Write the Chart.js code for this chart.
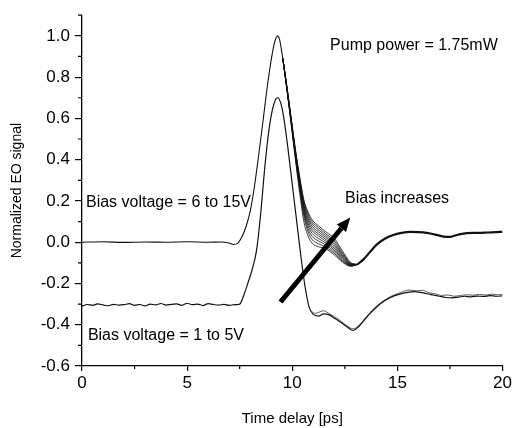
<!DOCTYPE html>
<html>
<head>
<meta charset="utf-8">
<script src="https://cdn.jsdelivr.net/npm/chart.js@4"></script>
<style>
  html, body { margin: 0; padding: 0; background: #fff; }
</style>
</head>
<body>
<canvas id="grafico" width="514" height="428"></canvas>
<script>
// Curva superior (6 a 15V) - parte comum: linha de base e subida
const subidaT = [0, 1, 2, 3, 4, 5, 6, 6.6, 7.0, 7.2, 7.4, 7.6, 7.8, 8.0, 8.2, 8.4, 8.6, 8.8, 9.0, 9.15, 9.3, 9.4, 9.55];
const subidaY = [0.0, 0.002, -0.001, 0.001, 0.0, 0.002, 0.0, 0.001, -0.004, -0.011, -0.006, 0.025, 0.075, 0.15, 0.27, 0.42, 0.58, 0.745, 0.885, 0.965, 1.0, 0.98, 0.89];

// Feixe de curvas (uma por tensão, 6V .. 15V)
const feixeT = [9.75, 9.95, 10.15, 10.35, 10.55, 10.75, 10.95, 11.25, 11.6, 12.0, 12.4, 12.8];
const feixeY = [
  [0.735, 0.570, 0.400, 0.240, 0.100, 0.030, -0.005, -0.022, -0.032, -0.062, -0.098, -0.117],
  [0.737, 0.575, 0.410, 0.255, 0.125, 0.050, 0.012, -0.008, -0.024, -0.054, -0.093, -0.115],
  [0.739, 0.578, 0.415, 0.265, 0.140, 0.065, 0.028, 0.006, -0.014, -0.046, -0.088, -0.114],
  [0.740, 0.582, 0.420, 0.275, 0.152, 0.080, 0.042, 0.018, -0.005, -0.038, -0.083, -0.112],
  [0.742, 0.585, 0.425, 0.283, 0.163, 0.092, 0.055, 0.030, 0.004, -0.030, -0.078, -0.110],
  [0.743, 0.588, 0.430, 0.290, 0.172, 0.104, 0.066, 0.040, 0.013, -0.021, -0.072, -0.108],
  [0.745, 0.590, 0.435, 0.297, 0.181, 0.115, 0.077, 0.050, 0.022, -0.012, -0.066, -0.106],
  [0.746, 0.593, 0.440, 0.305, 0.190, 0.126, 0.088, 0.060, 0.031, -0.003, -0.060, -0.105],
  [0.748, 0.596, 0.445, 0.312, 0.198, 0.137, 0.098, 0.070, 0.040, 0.007, -0.053, -0.103],
  [0.750, 0.600, 0.450, 0.320, 0.206, 0.147, 0.108, 0.079, 0.050, 0.018, -0.045, -0.100]
];

// Cauda comum da curva superior
const caudaT = [13.1, 13.4, 13.7, 14.0, 14.4, 14.8, 15.2, 15.6, 16.0, 16.4, 16.8, 17.2, 17.5, 17.9, 18.3, 18.8, 19.3, 19.7, 20.0];
const caudaY = [-0.108, -0.082, -0.047, -0.013, 0.017, 0.035, 0.045, 0.05, 0.049, 0.045, 0.037, 0.027, 0.026, 0.037, 0.044, 0.045, 0.047, 0.049, 0.05];

// Curva inferior (1 a 5V)
const inferiorT = [0, 0.25, 0.5, 0.75, 1, 1.25, 1.5, 1.75, 2, 2.25, 2.5, 2.75, 3, 3.25, 3.5, 3.75, 4, 4.25, 4.5, 4.75, 5, 5.25, 5.5, 5.75, 6, 6.25, 6.5, 6.75, 7, 7.25,
  7.5, 7.7, 7.9, 8.1, 8.3, 8.5, 8.7, 8.9, 9.05, 9.2, 9.3, 9.45, 9.6, 9.8, 10.0, 10.2, 10.4, 10.6, 10.8, 11.0, 11.25, 11.5, 11.75, 12.0, 12.3, 12.6, 12.9,
  13.15, 13.4, 13.7, 14.0, 14.3, 14.6, 14.9, 15.2, 15.5, 15.8, 16.1, 16.4, 16.7, 17.0, 17.3, 17.6, 17.9, 18.2, 18.5, 18.8, 19.1, 19.4, 19.7, 20.0];
const inferiorY = [-0.31, -0.302, -0.306, -0.299, -0.304, -0.308, -0.301, -0.305, -0.303, -0.298, -0.306, -0.302, -0.309, -0.3, -0.304, -0.297, -0.305, -0.301, -0.299, -0.306, -0.296, -0.303, -0.3, -0.307, -0.298, -0.302, -0.305, -0.301, -0.306, -0.303,
  -0.3, -0.255, -0.195, -0.13, -0.04, 0.14, 0.37, 0.55, 0.64, 0.69, 0.7, 0.675, 0.6, 0.45, 0.28, 0.11, -0.06, -0.21, -0.315, -0.35, -0.358, -0.347, -0.352, -0.368, -0.388, -0.41, -0.428,
  -0.41, -0.38, -0.345, -0.315, -0.29, -0.272, -0.258, -0.249, -0.243, -0.24, -0.243, -0.25, -0.256, -0.262, -0.268, -0.27, -0.266, -0.262, -0.265, -0.261, -0.263, -0.259, -0.262, -0.26];

// Variação ruidosa da cauda inferior
const inferior2T = [10.9, 11.1, 11.3, 11.5, 11.7, 12.0, 12.3, 12.6, 12.9, 13.2, 13.5, 13.8, 14.1, 14.4, 14.7, 15.0, 15.3, 15.6, 15.9, 16.2, 16.5, 16.8, 17.1, 17.4, 17.7, 18.0, 18.3, 18.6, 18.9, 19.2, 19.5, 19.8, 20.0];
const inferior2Y = [-0.335, -0.345, -0.338, -0.332, -0.343, -0.36, -0.382, -0.405, -0.42, -0.4, -0.365, -0.33, -0.302, -0.28, -0.262, -0.25, -0.238, -0.232, -0.236, -0.233, -0.245, -0.25, -0.258, -0.256, -0.262, -0.258, -0.255, -0.257, -0.253, -0.256, -0.252, -0.255, -0.254];

// Seta "Bias increases" (em unidades dos eixos)
const setaInicio = [9.44, -0.29];
const setaFim = [12.76, 0.12];

// Textos (posição em unidades dos eixos)
const textos = [
  { txt: 'Pump power = 1.75mW', x: 11.8, y: 0.93 },
  { txt: 'Bias increases', x: 12.51, y: 0.188 },
  { txt: 'Bias voltage = 6 to 15V', x: 0.19, y: 0.17 },
  { txt: 'Bias voltage = 1 to 5V', x: 0.28, y: -0.476 }
];

const FONTE = "'Liberation Sans', Arial, Helvetica, sans-serif";

function pontos(ts, ys) {
  return ts.map((t, i) => ({ x: t, y: ys[i] }));
}

const subida = pontos(subidaT, subidaY);
const cauda = pontos(caudaT, caudaY);

const datasets = [];
// subida fina (desenhada uma vez)
datasets.push({ data: subida, borderColor: '#111', borderWidth: 1.1 });
// feixe: liga o fim da subida ao começo da cauda
feixeY.forEach(linha => {
  datasets.push({
    data: [subida[subida.length - 1], ...pontos(feixeT, linha), cauda[0]],
    borderColor: '#111', borderWidth: 0.8
  });
});
// cauda grossa (curvas sobrepostas)
datasets.push({ data: cauda, borderColor: '#111', borderWidth: 2.2 });
datasets.push({ data: pontos(inferiorT, inferiorY), borderColor: '#111', borderWidth: 1.2 });
datasets.push({ data: pontos(inferior2T, inferior2Y), borderColor: '#333', borderWidth: 0.8 });

// Ticks menores, seta e textos
const extras = {
  id: 'extras',
  afterDraw(chart) {
    const { ctx, chartArea: a, scales: { x, y } } = chart;
    ctx.save();
    ctx.strokeStyle = '#000';
    ctx.lineWidth = 1.2;
    ctx.beginPath();
    y.ticks.forEach(t => {
      if (t.label === '') {
        const py = y.getPixelForValue(t.value);
        ctx.moveTo(a.left - 4, py); ctx.lineTo(a.left, py);
      }
    });
    x.ticks.forEach(t => {
      if (t.label === '') {
        const px = x.getPixelForValue(t.value);
        ctx.moveTo(px, a.bottom); ctx.lineTo(px, a.bottom + 3);
      }
    });
    ctx.stroke();

    // seta
    const x0 = x.getPixelForValue(setaInicio[0]), y0 = y.getPixelForValue(setaInicio[1]);
    const x1 = x.getPixelForValue(setaFim[0]), y1 = y.getPixelForValue(setaFim[1]);
    const ang = Math.atan2(y1 - y0, x1 - x0);
    const cab = 14, larg = 6;
    const bx = x1 - cab * Math.cos(ang), by = y1 - cab * Math.sin(ang);
    ctx.lineWidth = 5;
    ctx.lineCap = 'butt';
    ctx.beginPath();
    ctx.moveTo(x0, y0); ctx.lineTo(bx, by);
    ctx.stroke();
    ctx.fillStyle = '#000';
    ctx.beginPath();
    ctx.moveTo(x1, y1);
    ctx.lineTo(bx + larg * Math.sin(ang), by - larg * Math.cos(ang));
    ctx.lineTo(bx - larg * Math.sin(ang), by + larg * Math.cos(ang));
    ctx.closePath();
    ctx.fill();

    // textos
    ctx.font = '16px ' + FONTE;
    ctx.textAlign = 'left';
    ctx.textBaseline = 'alphabetic';
    textos.forEach(t => {
      ctx.fillText(t.txt, x.getPixelForValue(t.x), y.getPixelForValue(t.y));
    });
    ctx.restore();
  }
};

new Chart(document.getElementById('grafico'), {
  type: 'line',
  data: { datasets },
  plugins: [extras],
  options: {
    responsive: false,
    animation: false,
    layout: { padding: { top: 11, right: 10, bottom: 0, left: 0 } },
    elements: {
      point: { radius: 0 },
      line: { cubicInterpolationMode: 'monotone', fill: false }
    },
    plugins: { legend: { display: false }, tooltip: { enabled: false } },
    scales: {
      x: {
        type: 'linear', min: 0, max: 20,
        afterFit: s => { s.height = 62; },
        border: { display: true, color: '#000', width: 1.3 },
        grid: {
          drawOnChartArea: false, drawTicks: true, tickLength: 5, lineWidth: 1.2,
          color: c => (c.tick && c.tick.label !== '') ? '#000' : 'rgba(0,0,0,0)'
        },
        ticks: {
          stepSize: 2.5, autoSkip: false, maxRotation: 0, padding: 2,
          color: '#000', font: { family: FONTE, size: 17 },
          callback: v => (v % 5 === 0 ? String(v) : '')
        },
        title: {
          display: true, text: 'Time delay [ps]', color: '#000',
          font: { family: FONTE, size: 15 }, padding: { top: 5, bottom: 0 }
        }
      },
      y: {
        min: -0.6, max: 1.1,
        afterFit: s => { s.width = 82; },
        border: { display: true, color: '#000', width: 1.3 },
        grid: {
          drawOnChartArea: false, drawTicks: true, tickLength: 7, lineWidth: 1.2,
          color: c => (c.tick && c.tick.label !== '') ? '#000' : 'rgba(0,0,0,0)'
        },
        ticks: {
          stepSize: 0.1, autoSkip: false, padding: 5,
          color: '#000', font: { family: FONTE, size: 17 },
          callback: v => (Math.round(v * 10) % 2 === 0 && v < 1.05 ? v.toFixed(1) : '')
        },
        title: {
          display: true, text: 'Normalized EO signal', color: '#000',
          font: { family: FONTE, size: 14 }, padding: { top: 9, bottom: 0 }
        }
      }
    }
  }
});
</script>
</body>
</html>
